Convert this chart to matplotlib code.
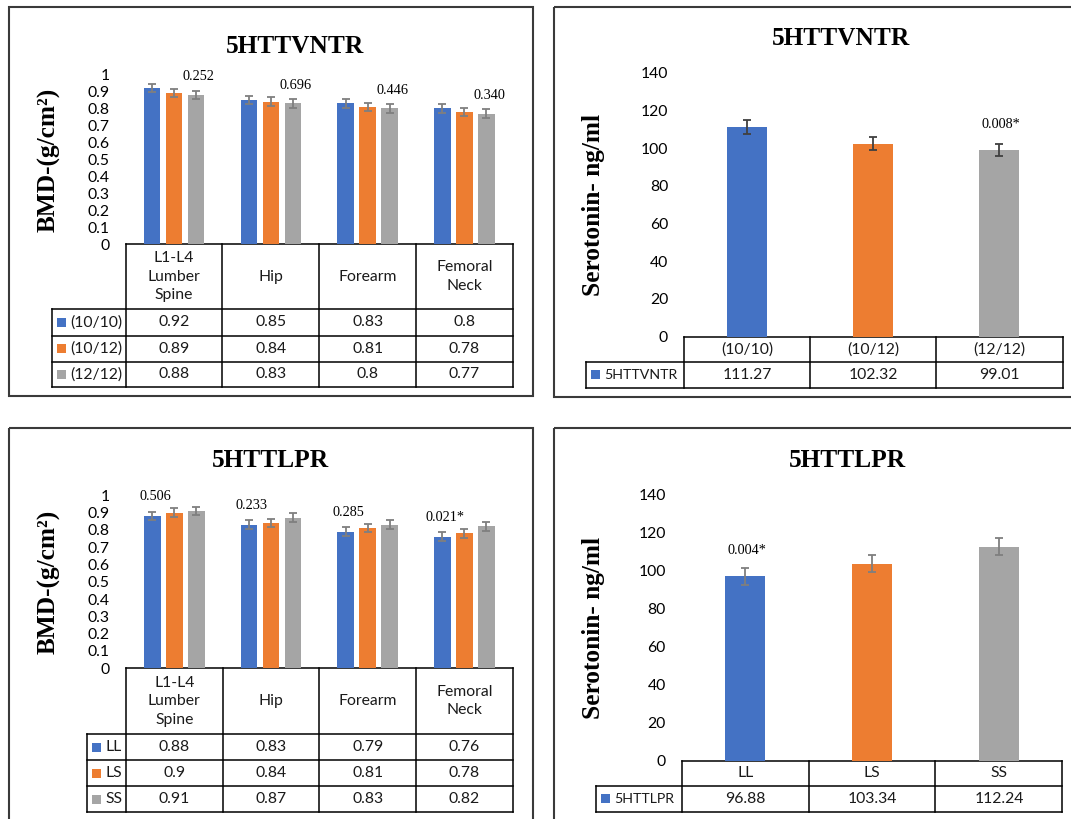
import numpy as np
import matplotlib
matplotlib.use('Agg')
import matplotlib.pyplot as plt
from matplotlib.patches import Rectangle
from matplotlib.ticker import FuncFormatter

W, H = 1071, 819
SANS = ['Lato', 'DejaVu Sans']
SERIF = ['Liberation Serif', 'DejaVu Serif']
BLUE, ORANGE, GREY = '#4472C4', '#ED7D31', '#A5A5A5'
SANS_SIZE = 11.3

# bone mineral density (g/cm2) by site
sites = ['L1-L4\nLumber\nSpine', 'Hip', 'Forearm', 'Femoral\nNeck']

vntr_labels = ['(10/10)', '(10/12)', '(12/12)']
vntr_1010 = [0.92, 0.85, 0.83, 0.8]
vntr_1012 = [0.89, 0.84, 0.81, 0.78]
vntr_1212 = [0.88, 0.83, 0.8, 0.77]
vntr_bmd_err = [0.025, 0.025, 0.025]
vntr_bmd_p = ['0.252', '0.696', '0.446', '0.340']

lpr_labels = ['LL', 'LS', 'SS']
lpr_ll = [0.88, 0.83, 0.79, 0.76]
lpr_ls = [0.9, 0.84, 0.81, 0.78]
lpr_ss = [0.91, 0.87, 0.83, 0.82]
lpr_bmd_err = [0.025, 0.025, 0.025]
lpr_bmd_p = ['0.506', '0.233', '0.285', '0.021*']

# serum serotonin (ng/ml)
vntr_sero = [111.27, 102.32, 99.01]
vntr_sero_err = [3.7, 3.5, 3.4]
vntr_sero_p = ['', '', '0.008*']

lpr_sero = [96.88, 103.34, 112.24]
lpr_sero_err = [4.5, 4.4, 4.5]
lpr_sero_p = ['0.004*', '', '']

fig = plt.figure(figsize=(W / 100, H / 100), dpi=100)
fig.patch.set_facecolor('white')

# pixel-space layer for boxes, tables and big labels
bg = fig.add_axes([0, 0, 1, 1])
bg.set_xlim(0, W)
bg.set_ylim(H, 0)
bg.axis('off')


def px_axes(x0, x1, ytop, ybot):
    return fig.add_axes([x0 / W, 1 - ybot / H, (x1 - x0) / W, (ybot - ytop) / H])


def setup_axes(ax, n, ymax, step):
    ax.set_xlim(-0.5, n - 0.5)
    ax.set_ylim(0, ymax)
    ax.set_yticks(np.arange(0, ymax + step / 2, step))
    ax.yaxis.set_major_formatter(FuncFormatter(lambda v, _: f'{v:g}'))
    ax.tick_params(axis='y', length=0, pad=11.5, labelsize=SANS_SIZE)
    for lab in ax.get_yticklabels():
        lab.set_fontfamily(SANS)
    ax.set_xticks([])
    for s in ax.spines.values():
        s.set_visible(False)
    ax.patch.set_alpha(0)


def draw_table(x0, x1, n, y_top, y_head, row_bottoms, lab_x0, headers, labels, colors,
               cells, label_size=SANS_SIZE):
    edges = [x0 + i * (x1 - x0) / n for i in range(n + 1)]
    y_end = row_bottoms[-1]
    kw = dict(color='black', lw=1.1, solid_capstyle='projecting')
    bg.plot([x0, x1], [y_top, y_top], **kw)
    for y in [y_head] + row_bottoms:
        bg.plot([lab_x0, x1], [y, y], **kw)
    for x in edges:
        bg.plot([x, x], [y_top, y_end], **kw)
    bg.plot([lab_x0, lab_x0], [y_head, y_end], **kw)
    for j, h in enumerate(headers):
        bg.text((edges[j] + edges[j + 1]) / 2, (y_top + y_head) / 2, h,
                ha='center', va='center', fontsize=SANS_SIZE, family=SANS,
                linespacing=1.4, color='#1a1a1a')
    tops = [y_head] + row_bottoms[:-1]
    for i, (lab, c, row) in enumerate(zip(labels, colors, cells)):
        yc = (tops[i] + row_bottoms[i]) / 2
        bg.add_patch(Rectangle((lab_x0 + 5, yc - 4.5), 9, 9, color=c, lw=0))
        bg.text(lab_x0 + 18.5, yc, lab, ha='left', va='center',
                fontsize=label_size, family=SANS, color='#1a1a1a')
        for j, v in enumerate(row):
            bg.text((edges[j] + edges[j + 1]) / 2, yc, f'{v:g}', ha='center',
                    va='center', fontsize=SANS_SIZE, family=SANS, color='#1a1a1a')


def big_text(x, y, s, rot=0, va='baseline'):
    bg.text(x, y, s, ha='center', va=va, rotation=rot, family=SERIF,
            weight='bold', fontsize=18.3, color='black')


# panel frames
for (x0, y0, x1, y1) in [(9, 7, 532.7, 395.5), (554.3, 6.7, W + 5, 396.7),
                         (9, 427.6, 532.7, H + 5), (554.3, 428.3, W + 5, H + 5)]:
    bg.add_patch(Rectangle((x0, y0), x1 - x0, y1 - y0, fill=False,
                           ec='#3a3a3a', lw=1.5))


def bmd_panel(x0, x1, ytop, ybot, series, err, pvals, p_idx, dy, title, tx, tty, ly):
    ax = px_axes(x0, x1, ytop, ybot)
    n = len(sites)
    colw = (x1 - x0) / n
    pitch, width = 22 / colw, 16.5 / colw
    k = len(series)
    for i, (vals, c) in enumerate(zip(series, [BLUE, ORANGE, GREY])):
        xs = np.arange(n) + (i - (k - 1) / 2) * pitch
        ax.bar(xs, vals, width, color=c, yerr=err[i], zorder=2,
               error_kw=dict(ecolor='#7f7f7f', elinewidth=1.3, capsize=3, capthick=1.3))
        if i == p_idx:
            for x, v, p in zip(xs, vals, pvals):
                ax.annotate(p, xy=(x, v + err[i]), xytext=(2, dy), textcoords='offset points',
                            ha='center', va='center', fontsize=10.3, family=SERIF)
    setup_axes(ax, n, 1, 0.1)
    big_text(tx, tty, title)
    big_text(49, ly, 'BMD-(g/cm²)', rot=90, va='center')
    return ax


def sero_panel(x0, x1, ytop, ybot, vals, err, pvals, dy, ecolor, title, tx, tty, ly):
    ax = px_axes(x0, x1, ytop, ybot)
    n = len(vals)
    colw = (x1 - x0) / n
    xs = np.arange(n)
    ax.bar(xs, vals, 40 / colw, color=[BLUE, ORANGE, GREY], yerr=err, zorder=2,
           error_kw=dict(ecolor=ecolor, elinewidth=1.3, capsize=3.2, capthick=1.3))
    for x, v, e, p in zip(xs, vals, err, pvals):
        if p:
            ax.annotate(p, xy=(x, v + e), xytext=(1, dy), textcoords='offset points',
                        ha='center', va='center', fontsize=10.3, family=SERIF)
    setup_axes(ax, n, 140, 20)
    big_text(tx, tty, title)
    big_text(593.8, ly, 'Serotonin- ng/ml', rot=90, va='center')
    return ax


# top left: BMD by 5HTTVNTR
bmd_panel(125.7, 512.7, 74.5, 244.3, [vntr_1010, vntr_1012, vntr_1212], vntr_bmd_err,
          vntr_bmd_p, 2, 10, '5HTTVNTR', 294.8, 53.3, 159.5)
draw_table(125.7, 512.7, 4, 244.3, 309, [336, 361.7, 387], 52, sites, vntr_labels,
           [BLUE, ORANGE, GREY], [vntr_1010, vntr_1012, vntr_1212])

# bottom left: BMD by 5HTTLPR
bmd_panel(125.9, 512.8, 495.3, 668.3, [lpr_ll, lpr_ls, lpr_ss], lpr_bmd_err,
          lpr_bmd_p, 0, 11, '5HTTLPR', 270.7, 466.7, 582)
draw_table(125.9, 512.8, 4, 668.3, 734, [760, 786, 812.3], 86.7, sites, lpr_labels,
           [BLUE, ORANGE, GREY], [lpr_ll, lpr_ls, lpr_ss])

# top right: serotonin by 5HTTVNTR
sero_panel(684, 1062.5, 72.7, 336.5, vntr_sero, vntr_sero_err, vntr_sero_p, 14,
           '#404040', '5HTTVNTR', 841, 45, 204.5)
draw_table(684, 1062.5, 3, 336.5, 361.7, [387.7], 585.7, vntr_labels, ['5HTTVNTR'],
           [BLUE], [vntr_sero], label_size=10.2)

# bottom right: serotonin by 5HTTLPR
sero_panel(681.7, 1062.3, 494, 760.7, lpr_sero, lpr_sero_err, lpr_sero_p, 12.2,
           '#7f7f7f', '5HTTLPR', 847.6, 466.7, 628)
draw_table(681.7, 1062.3, 3, 760.7, 786, [811.7], 595.7, lpr_labels, ['5HTTLPR'],
           [BLUE], [lpr_sero], label_size=10.2)

fig.savefig('out.png', dpi=100, facecolor='white')
